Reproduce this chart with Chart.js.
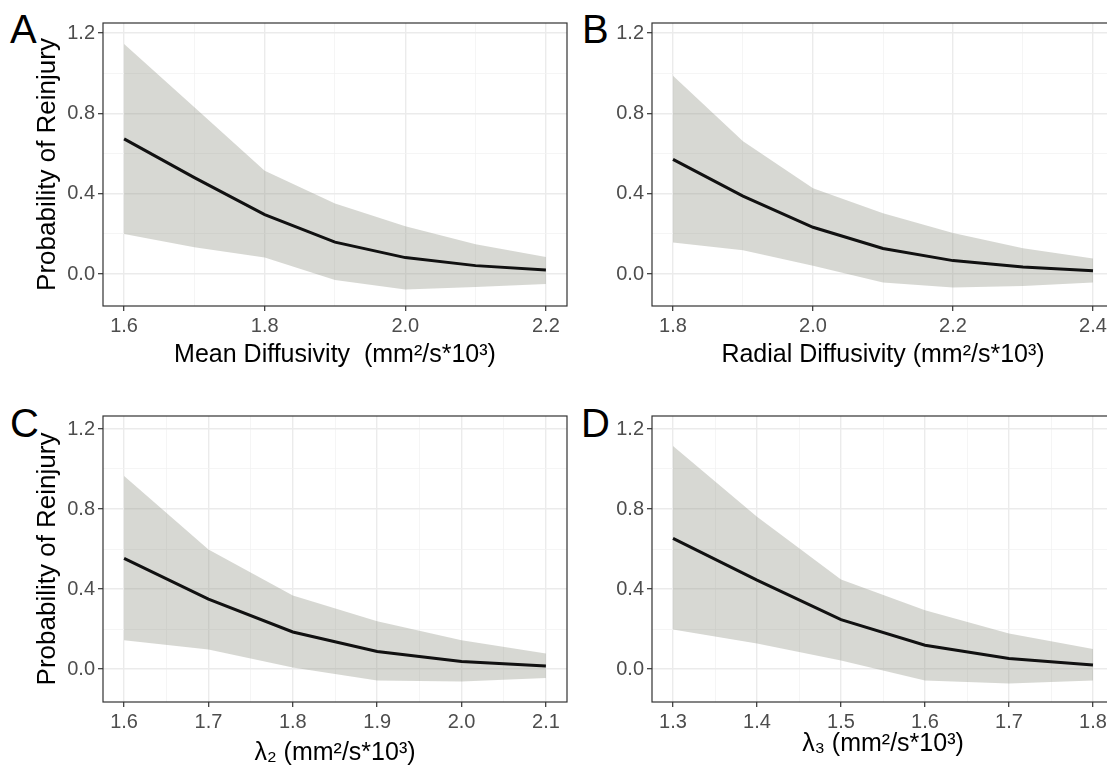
<!DOCTYPE html>
<html>
<head>
<meta charset="utf-8">
<script src="https://cdn.jsdelivr.net/npm/chart.js@4"></script>
<style>
  html, body { margin: 0; padding: 0; background: #fff; overflow: hidden; width: 1107px; height: 768px; }
  canvas { position: absolute; }
  .tag { position: absolute; font-family: "Liberation Sans", Arial, sans-serif; font-size: 40px; line-height: 1; color: #000; }
</style>
</head>
<body>
<div class="tag" style="left:10px;top:9px">A</div>
<div class="tag" style="left:582px;top:9px">B</div>
<div class="tag" style="left:10px;top:403px">C</div>
<div class="tag" style="left:581px;top:403px">D</div>

<canvas id="chartA" width="575" height="384" style="left:0;top:0"></canvas>
<canvas id="chartB" width="547" height="384" style="left:575px;top:0"></canvas>
<canvas id="chartC" width="575" height="384" style="left:0;top:384px"></canvas>
<canvas id="chartD" width="547" height="384" style="left:575px;top:384px"></canvas>

<script>
// ===============================
// DATA
// ===============================
const xA = [1.6, 1.7, 1.8, 1.9, 2.0, 2.1, 2.2];
const fitA = [0.673, 0.48, 0.296, 0.159, 0.082, 0.042, 0.02];
const upperA = [1.146, 0.83, 0.514, 0.351, 0.238, 0.149, 0.085];
const lowerA = [0.199, 0.134, 0.082, -0.03, -0.077, -0.064, -0.049];

const xB = [1.8, 1.9, 2.0, 2.1, 2.2, 2.3, 2.4];
const fitB = [0.571, 0.388, 0.233, 0.127, 0.067, 0.035, 0.017];
const upperB = [0.987, 0.661, 0.427, 0.303, 0.204, 0.129, 0.077];
const lowerB = [0.157, 0.119, 0.042, -0.042, -0.067, -0.059, -0.042];

const xC = [1.6, 1.7, 1.8, 1.9, 2.0, 2.1];
const fitC = [0.553, 0.349, 0.185, 0.088, 0.038, 0.015];
const upperC = [0.965, 0.598, 0.367, 0.239, 0.144, 0.077];
const lowerC = [0.144, 0.097, 0.007, -0.058, -0.063, -0.045];

const xD = [1.3, 1.4, 1.5, 1.6, 1.7, 1.8];
const fitD = [0.653, 0.444, 0.247, 0.119, 0.053, 0.02];
const upperD = [1.115, 0.761, 0.447, 0.294, 0.177, 0.1];
const lowerD = [0.197, 0.127, 0.043, -0.057, -0.073, -0.057];

// tick values (major get labels, minor only gridlines)
const yMajor = [0, 0.4, 0.8, 1.2];
const yMinor = [0.2, 0.6, 1.0];
const xMajorA = [1.6, 1.8, 2.0, 2.2];
const xMinorA = [1.7, 1.9, 2.1];
const xMajorB = [1.8, 2.0, 2.2, 2.4];
const xMinorB = [1.9, 2.1, 2.3];
const xMajorC = [1.6, 1.7, 1.8, 1.9, 2.0, 2.1];
const xMinorC = [1.65, 1.75, 1.85, 1.95, 2.05];
const xMajorD = [1.3, 1.4, 1.5, 1.6, 1.7, 1.8];
const xMinorD = [1.35, 1.45, 1.55, 1.65, 1.75];

const yTitle = "Probability of Reinjury";
const xTitleA = "Mean Diffusivity  (mm\u00b2/s*10\u00b3)";
const xTitleB = "Radial Diffusivity (mm\u00b2/s*10\u00b3)";
const xTitleC = "\u03bb\u2082 (mm\u00b2/s*10\u00b3)";
const xTitleD = "\u03bb\u2083 (mm\u00b2/s*10\u00b3)";

// ===============================
// HELPERS
// ===============================
const FONT = "'Liberation Sans', Arial, Helvetica, sans-serif";

const boxPlugin = {
  id: "box",
  afterDatasetsDraw(chart) {
    const { ctx, chartArea: a } = chart;
    ctx.save();
    ctx.strokeStyle = "#333333";
    ctx.lineWidth = 1.2;
    ctx.strokeRect(a.left, a.top, a.right - a.left, a.bottom - a.top);
    ctx.restore();
  },
};

function tickSetter(major, minor) {
  return (scale) => {
    const all = major.map((v) => ({ value: v, main: true }))
      .concat(minor.map((v) => ({ value: v, main: false })));
    all.sort((p, q) => p.value - q.value);
    scale.ticks = all;
  };
}

function gridOpts() {
  return {
    color: (c) => (c.tick && c.tick.main ? "#ebebeb" : "#f3f3f3"),
    lineWidth: (c) => (c.tick && c.tick.main ? 1.4 : 0.8),
    tickColor: (c) => (c.tick && c.tick.main ? "#333333" : "rgba(0,0,0,0)"),
    tickWidth: 1.2,
    tickLength: 5,
    drawTicks: true,
  };
}

function makePanel(id, p) {
  const pts = (ys) => p.x.map((x, i) => ({ x: x, y: ys[i] }));
  new Chart(document.getElementById(id), {
    type: "line",
    data: {
      datasets: [
        {
          data: pts(p.fit),
          borderColor: "#111111",
          borderWidth: 3,
          pointRadius: 0,
          tension: 0,
          fill: false,
        },
        {
          data: pts(p.lower),
          borderColor: "rgba(0,0,0,0)",
          borderWidth: 0,
          pointRadius: 0,
          fill: false,
        },
        {
          data: pts(p.upper),
          borderColor: "rgba(0,0,0,0)",
          borderWidth: 0,
          pointRadius: 0,
          backgroundColor: "rgba(150,153,140,0.38)",
          fill: 1,
        },
      ],
    },
    options: {
      responsive: false,
      animation: false,
      devicePixelRatio: 1,
      layout: { padding: { left: 0, top: p.padTop, right: 8, bottom: 0 } },
      plugins: { legend: { display: false }, tooltip: { enabled: false } },
      scales: {
        x: {
          type: "linear",
          min: p.xMin,
          max: p.xMax,
          bounds: "data",
          afterBuildTicks: tickSetter(p.xMajor, p.xMinor),
          afterFit: (s) => { s.height = p.xHeight; },
          grid: gridOpts(),
          border: { display: false },
          ticks: {
            autoSkip: false,
            maxRotation: 0,
            padding: 3,
            color: "#4d4d4d",
            font: { family: FONT, size: 20 },
            callback: (v, i, t) => (t[i].main ? v.toFixed(1) : ""),
          },
          title: {
            display: true,
            text: p.xTitle,
            color: "#000000",
            font: { family: FONT, size: 25 },
            padding: { top: 0, bottom: p.xTitlePad },
          },
        },
        y: {
          type: "linear",
          min: p.yMin,
          max: p.yMax,
          bounds: "data",
          afterBuildTicks: tickSetter(yMajor, yMinor),
          afterFit: (s) => { s.width = p.yWidth; },
          grid: gridOpts(),
          border: { display: false },
          ticks: {
            autoSkip: false,
            padding: 3,
            color: "#4d4d4d",
            font: { family: FONT, size: 20 },
            callback: (v, i, t) => (t[i].main ? v.toFixed(1) : ""),
          },
          title: {
            display: !!p.yTitle,
            text: p.yTitle || "",
            color: "#000000",
            font: { family: FONT, size: 26 },
            padding: { top: 32, bottom: 0 },
          },
        },
      },
    },
    plugins: [boxPlugin],
  });
}

// ===============================
// PANELS
// ===============================
makePanel("chartA", {
  x: xA, fit: fitA, upper: upperA, lower: lowerA,
  xMajor: xMajorA, xMinor: xMinorA, xMin: 1.57, xMax: 2.23,
  yMin: -0.159, yMax: 1.25, padTop: 23, xHeight: 78, yWidth: 103,
  xTitle: xTitleA, xTitlePad: 14, yTitle: yTitle,
});

makePanel("chartB", {
  x: xB, fit: fitB, upper: upperB, lower: lowerB,
  xMajor: xMajorB, xMinor: xMinorB, xMin: 1.77, xMax: 2.43,
  yMin: -0.159, yMax: 1.25, padTop: 23, xHeight: 78, yWidth: 77,
  xTitle: xTitleB, xTitlePad: 14,
});

makePanel("chartC", {
  x: xC, fit: fitC, upper: upperC, lower: lowerC,
  xMajor: xMajorC, xMinor: xMinorC, xMin: 1.575, xMax: 2.125,
  yMin: -0.165, yMax: 1.265, padTop: 32, xHeight: 66, yWidth: 103,
  xTitle: xTitleC, xTitlePad: 0, yTitle: yTitle,
});

makePanel("chartD", {
  x: xD, fit: fitD, upper: upperD, lower: lowerD,
  xMajor: xMajorD, xMinor: xMinorD, xMin: 1.275, xMax: 1.825,
  yMin: -0.165, yMax: 1.265, padTop: 32, xHeight: 66, yWidth: 77,
  xTitle: xTitleD, xTitlePad: 9,
});
</script>
</body>
</html>
